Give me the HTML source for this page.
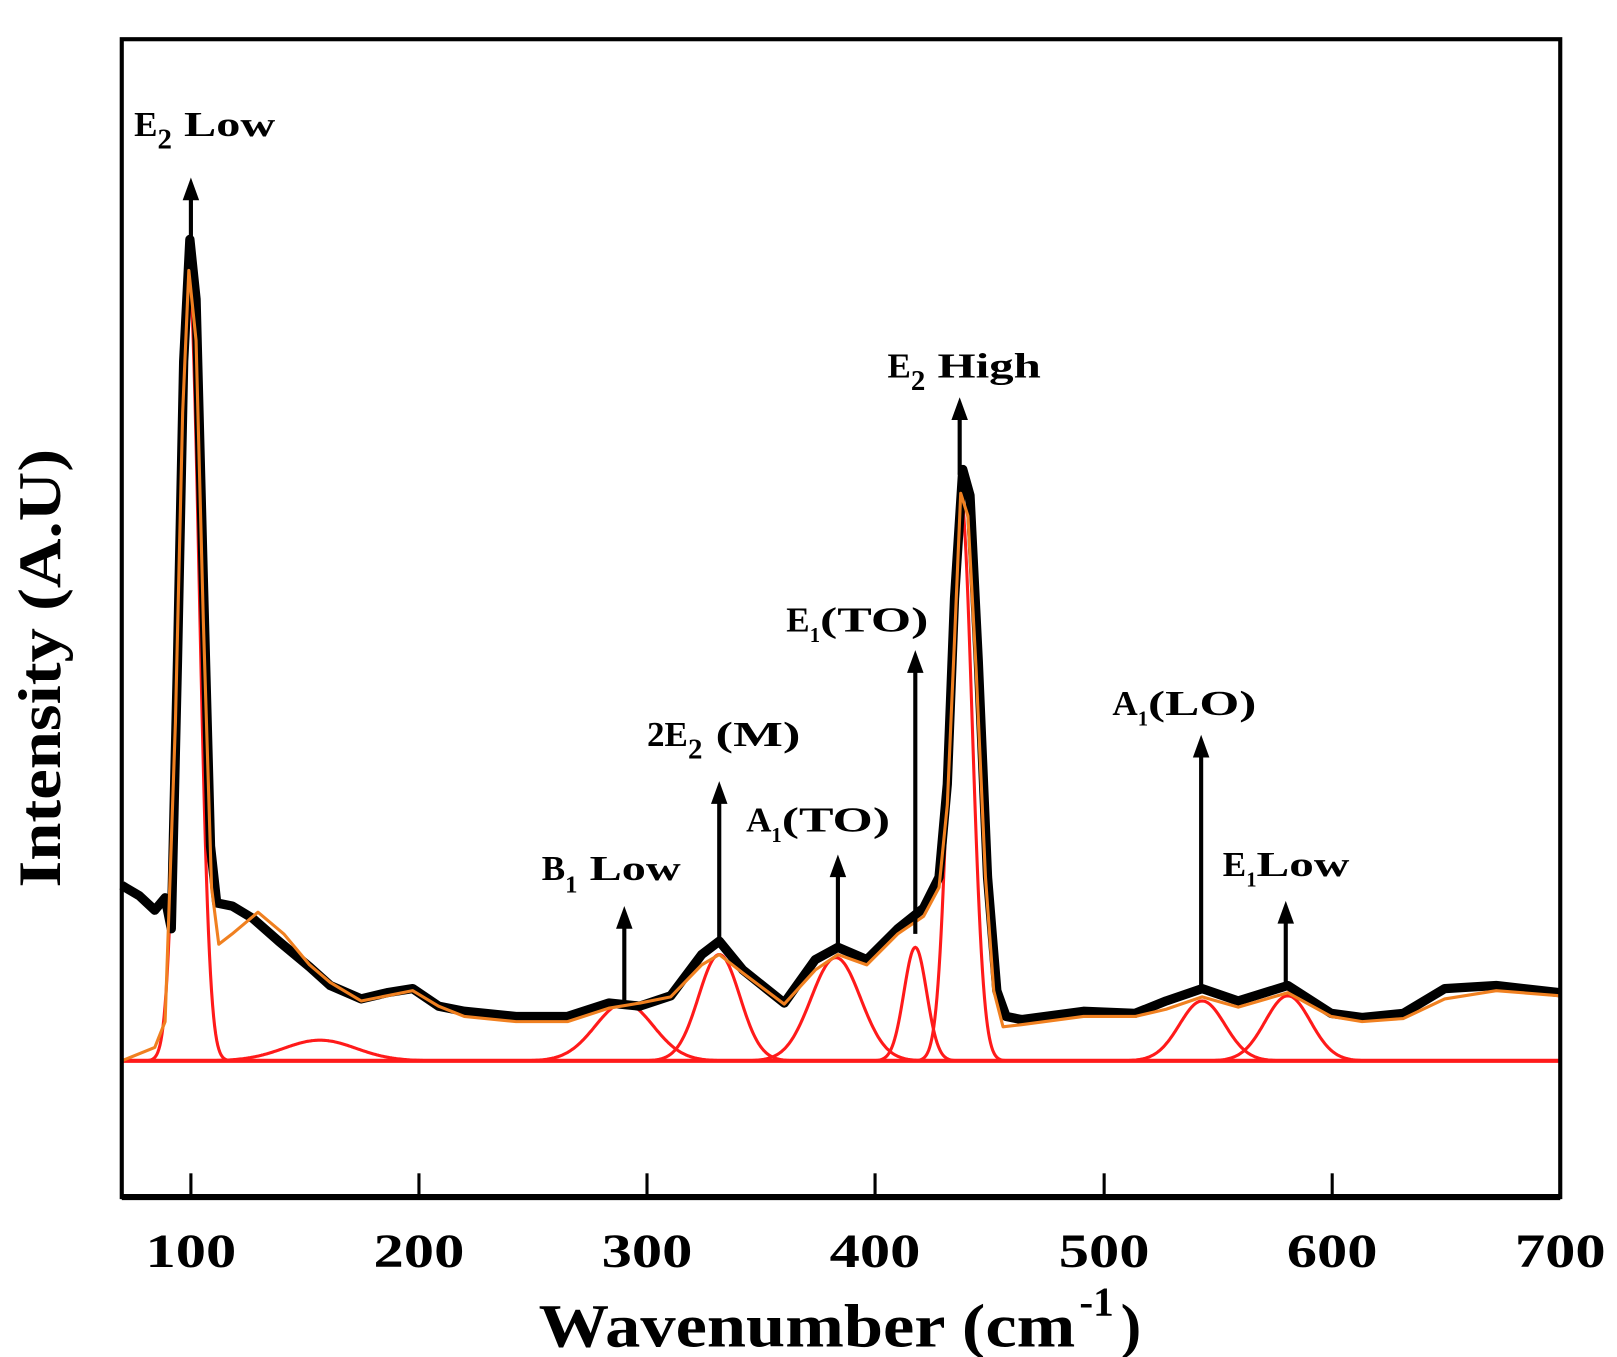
<!DOCTYPE html>
<html><head><meta charset="utf-8"><style>
html,body{margin:0;padding:0;background:#fff;}
svg{display:block;}
text{font-family:"Liberation Serif",serif;font-weight:bold;fill:#000;}
</style></head><body>
<svg id="s" width="1617" height="1357" viewBox="0 0 1567 1315" preserveAspectRatio="none" xmlns="http://www.w3.org/2000/svg">
<rect x="0" y="0" width="1567" height="1315" fill="#fff"/>
<g id="red" fill="none" stroke="#ff1a1a" stroke-width="3"></g>
<line x1="118" y1="1028" x2="1512" y2="1028" stroke="#ff1a1a" stroke-width="4"/>
<path id="blk" fill="none" stroke="#000" stroke-width="9" stroke-linejoin="round"/>
<path id="org" fill="none" stroke="#f08020" stroke-width="3" stroke-linejoin="round"/>
<g id="arr" stroke="#000" stroke-width="4" fill="#000"></g>
<rect x="118" y="38" width="1394" height="1122" fill="none" stroke="#000" stroke-width="4"/>
<line x1="118" y1="1160" x2="1512" y2="1160" stroke="#000" stroke-width="6"/>
<g stroke="#000" stroke-width="3">
<line x1="185" y1="1160" x2="185" y2="1137"/><line x1="406" y1="1160" x2="406" y2="1137"/>
<line x1="627" y1="1160" x2="627" y2="1137"/><line x1="848" y1="1160" x2="848" y2="1137"/>
<line x1="1070" y1="1160" x2="1070" y2="1137"/><line x1="1291" y1="1160" x2="1291" y2="1137"/>
</g>
<g font-size="46">
<text x="141" y="1228" textLength="88" lengthAdjust="spacingAndGlyphs">100</text>
<text x="362" y="1228" textLength="88" lengthAdjust="spacingAndGlyphs">200</text>
<text x="583" y="1228" textLength="88" lengthAdjust="spacingAndGlyphs">300</text>
<text x="804" y="1228" textLength="88" lengthAdjust="spacingAndGlyphs">400</text>
<text x="1026" y="1228" textLength="88" lengthAdjust="spacingAndGlyphs">500</text>
<text x="1247" y="1228" textLength="88" lengthAdjust="spacingAndGlyphs">600</text>
<text x="1468" y="1228" textLength="88" lengthAdjust="spacingAndGlyphs">700</text>
</g>
<text x="522" y="1305" font-size="60" textLength="520" lengthAdjust="spacingAndGlyphs">Wavenumber (cm</text>
<text x="1046" y="1275" font-size="40">-1</text>
<text x="1086" y="1305" font-size="60">)</text>
<text transform="translate(58,860) rotate(-90)" font-size="58" textLength="425" lengthAdjust="spacingAndGlyphs">Intensity (A.U)</text>
<g font-size="34">
<text x="130" y="132">E<tspan dy="12" font-size="28">2</tspan><tspan dy="-12" textLength="100" lengthAdjust="spacingAndGlyphs"> Low</tspan></text>
<text x="525" y="853">B<tspan dy="12" font-size="24">1</tspan><tspan dy="-12" textLength="100" lengthAdjust="spacingAndGlyphs"> Low</tspan></text>
<text x="627" y="723">2E<tspan dy="12" font-size="28">2</tspan><tspan dy="-12" textLength="95" lengthAdjust="spacingAndGlyphs"> (M)</tspan></text>
<text x="723" y="806">A<tspan dy="10" font-size="20">1</tspan><tspan dy="-10" textLength="105" lengthAdjust="spacingAndGlyphs">(TO)</tspan></text>
<text x="762" y="612">E<tspan dy="10" font-size="20">1</tspan><tspan dy="-10" textLength="105" lengthAdjust="spacingAndGlyphs">(TO)</tspan></text>
<text x="860" y="366">E<tspan dy="12" font-size="28">2</tspan><tspan dy="-12" textLength="112" lengthAdjust="spacingAndGlyphs"> High</tspan></text>
<text x="1078" y="693">A<tspan dy="10" font-size="20">1</tspan><tspan dy="-10" textLength="105" lengthAdjust="spacingAndGlyphs">(LO)</tspan></text>
<text x="1185" y="849">E<tspan dy="10" font-size="20">1</tspan><tspan dy="-10" textLength="90" lengthAdjust="spacingAndGlyphs">Low</tspan></text>
</g>
</svg>
<script>
var ns="http://www.w3.org/2000/svg";
var peaks=[[183,763,10],[310,20,35],[605,56,28],[697,103,20],[810,100,24],[887,110,11],[931,548,11],[1165,58,22],[1248,63,22]];
var red=document.getElementById('red');
peaks.forEach(function(p){var d="";for(var x=p[0]-5*p[2];x<=p[0]+5*p[2];x+=1){if(x<118||x>1512)continue;var y=1028-p[1]*Math.exp(-0.5*Math.pow((x-p[0])/p[2],2));d+=(d?"L":"M")+x+","+y.toFixed(1);}var e=document.createElementNS(ns,"path");e.setAttribute("d",d);red.appendChild(e);});
var org=[[118,1028],[150,1015],[160,990],[170,700],[177,400],[183,262],[190,330],[197,600],[205,860],[212,915],[225,905],[250,884],[275,905],[300,935],[320,952],[350,970],[375,965],[400,960],[425,975],[450,985],[500,990],[550,990],[590,977],[620,972],[650,966],[680,935],[697,925],[720,943],[760,973],[790,940],[812,925],[840,935],[870,905],[895,888],[910,860],[918,780],[925,620],[931,478],[938,500],[946,650],[955,850],[963,960],[972,995],[990,993],[1050,985],[1100,985],[1130,978],[1165,966],[1200,976],[1248,962],[1290,985],[1320,990],[1360,987],[1400,968],[1450,960],[1512,965]];
var blk=[[118,858],[135,868],[150,882],[160,870],[166,900],[172,640],[178,350],[184,232],[190,290],[197,560],[204,820],[210,875],[225,878],[245,890],[270,912],[300,937],[320,955],[350,968],[375,962],[400,958],[425,975],[450,980],[500,985],[550,985],[590,972],[620,975],[650,965],[680,925],[697,912],[720,940],[760,972],[790,930],[812,918],[840,930],[870,900],[895,880],[910,850],[918,760],[925,580],[933,455],[940,480],[948,640],[957,850],[966,960],[975,985],[990,988],[1050,980],[1100,982],[1130,970],[1165,958],[1200,970],[1248,955],[1290,982],[1320,986],[1360,982],[1400,958],[1450,955],[1512,962]];
function pth(a){return "M"+a.map(function(p){return p[0]+","+p[1];}).join("L");}
document.getElementById('org').setAttribute("d",pth(org));
document.getElementById('blk').setAttribute("d",pth(blk));
var arr=[[185,235,172],[605,972,878],[697,912,757],[812,918,828],[887,905,630],[930,460,385],[1164,962,712],[1246,958,873]];
var g=document.getElementById('arr');
arr.forEach(function(a){var l=document.createElementNS(ns,"line");l.setAttribute("x1",a[0]);l.setAttribute("x2",a[0]);l.setAttribute("y1",a[1]);l.setAttribute("y2",a[2]+15);g.appendChild(l);var t=document.createElementNS(ns,"polygon");t.setAttribute("points",(a[0]-8)+","+(a[2]+22)+" "+a[0]+","+a[2]+" "+(a[0]+8)+","+(a[2]+22));t.setAttribute("stroke","none");g.appendChild(t);});
</script>
</body></html>
